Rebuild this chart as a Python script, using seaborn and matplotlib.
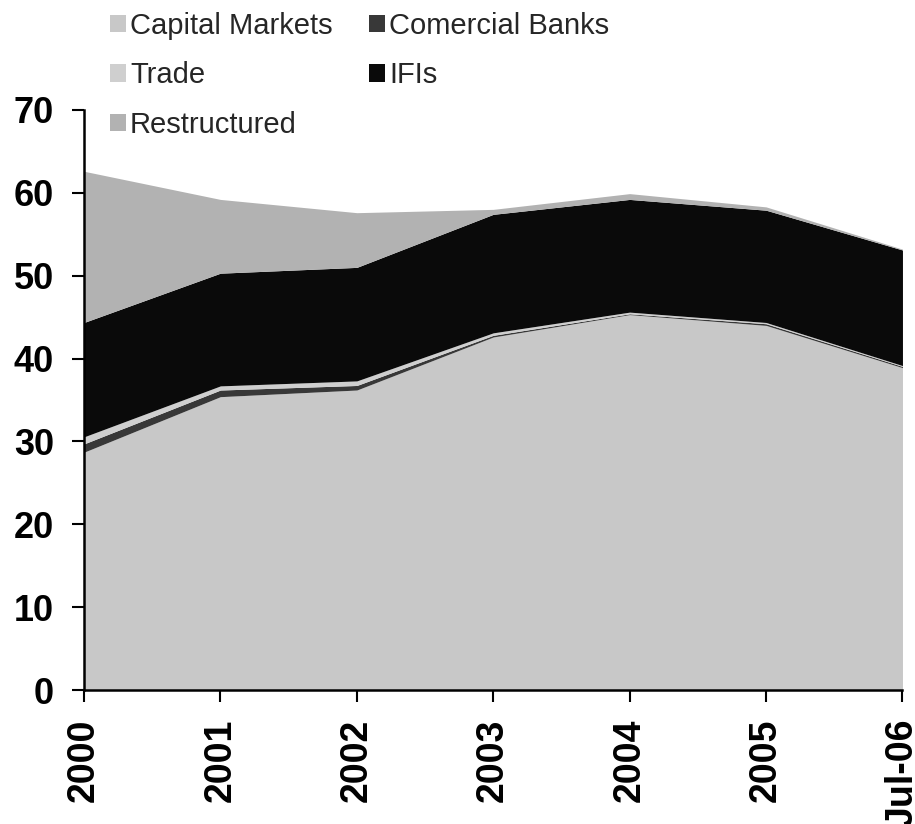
import matplotlib
matplotlib.use("Agg")
import matplotlib.pyplot as plt
from matplotlib.patches import Patch
import numpy as np
import seaborn as sns

# data (cumulative tops converted to layer sizes)
periods = ['2000', '2001', '2002', '2003', '2004', '2005', 'Jul-06']
capitalMarkets = [28.7, 35.4, 36.2, 42.6, 45.3, 44.0, 38.9]
comercialBanks = [1.0, 0.8, 0.55, 0.2, 0.1, 0.2, 0.15]
trade = [0.85, 0.5, 0.55, 0.3, 0.2, 0.15, 0.1]
ifis = [13.8, 13.6, 13.7, 14.3, 13.6, 13.55, 13.95]
restructured = [18.25, 8.9, 6.6, 0.6, 0.7, 0.4, 0.1]

labels = ['Capital Markets', 'Comercial Banks', 'Trade', 'IFIs', 'Restructured']
colors = ['#c8c8c8', '#383838', '#cfcfcf', '#0a0a0a', '#b2b2b2']

sns.set_theme(style='ticks')
plt.rcParams['font.family'] = ['Liberation Sans', 'DejaVu Sans']

fig = plt.figure(figsize=(9.15, 8.24), dpi=100)
ax = fig.add_axes([0.0918, 0.1626, 0.8945, 0.704])

x = np.arange(len(periods))
ax.stackplot(x, capitalMarkets, comercialBanks, trade, ifis, restructured,
             colors=colors, linewidth=0)

ax.set_xlim(0, len(periods) - 1)
ax.set_ylim(0, 70)
ax.set_xticks(x)
ax.set_xticklabels(periods, rotation=90, fontsize=27, fontweight='bold', color='black')
ax.set_yticks(range(0, 71, 10))
ax.set_yticklabels([str(v) for v in range(0, 71, 10)], fontsize=26, fontweight='bold', color='black')
ax.tick_params(axis='both', length=8.5, width=1.5, color='black', direction='out')
ax.tick_params(axis='x', pad=12)
ax.tick_params(axis='y', pad=13)
sns.despine(ax=ax)
for side in ['left', 'bottom']:
    ax.spines[side].set_color('black')
    ax.spines[side].set_linewidth(1.8)

# legend: first column CM, Trade, Restructured; second column CB, IFIs
order = [0, 2, 4, 1, 3]
handles = [Patch(facecolor=colors[i], edgecolor='none', label=labels[i]) for i in order]
fig.legend(handles=handles, loc='upper left', bbox_to_anchor=(0.107, 1.0),
           ncol=2, frameon=False, prop={'family': 'Liberation Sans', 'size': 21},
           handlelength=0.55, handleheight=0.55,
           handletextpad=0.15, columnspacing=1.25, labelspacing=0.74, borderaxespad=0)

fig.savefig('out.png', dpi=100)
